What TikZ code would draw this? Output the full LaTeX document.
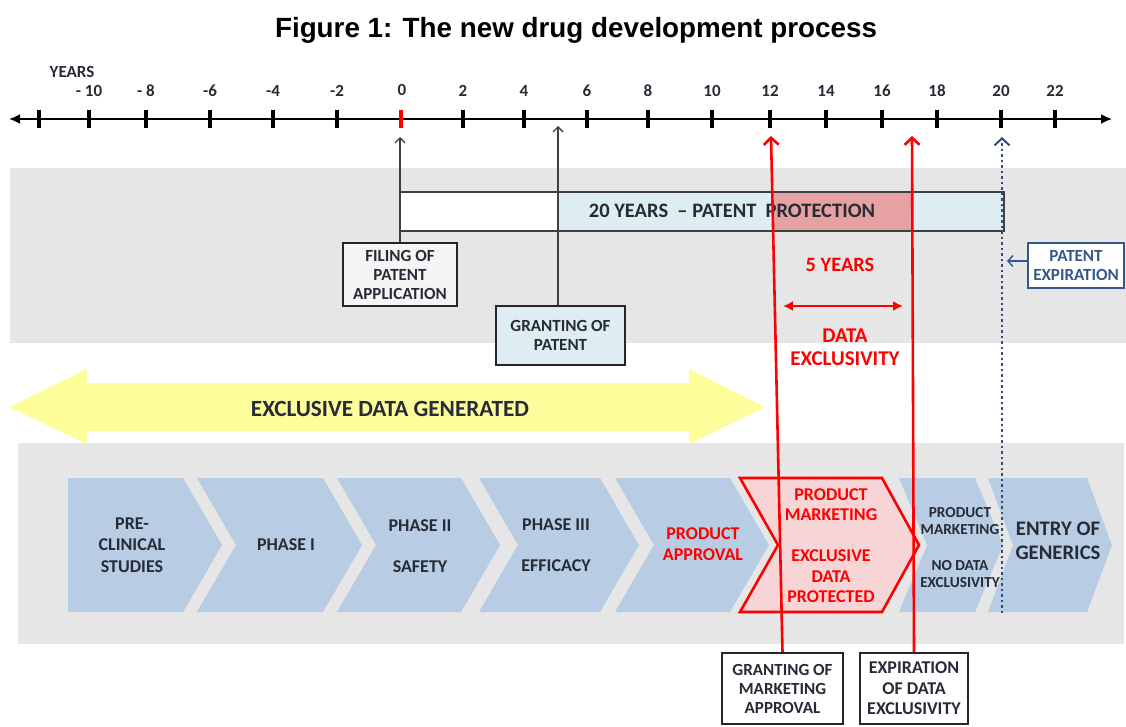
\documentclass[tikz,border=0pt]{standalone}
\usepackage{fontspec}
\setmainfont{Carlito}
\newfontfamily\titlefont{Liberation Sans}
\usetikzlibrary{arrows.meta}

\definecolor{bandgray}{HTML}{E6E6E6}
\definecolor{chevblue}{HTML}{B8CCE4}
\definecolor{barblue}{HTML}{DEEDF4}
\definecolor{barpink}{HTML}{E6A1A3}
\definecolor{chevpink}{HTML}{F7D5D7}
\definecolor{arrowyellow}{HTML}{FDFD9B}
\definecolor{txtdark}{HTML}{262B36}
\definecolor{expblue}{HTML}{35578A}
\definecolor{mkred}{HTML}{FF0000}

\tikzset{
    lblS/.style={font=\bfseries\fontsize{15.3}{17}\selectfont, align=center, text=txtdark},
    lblM/.style={font=\bfseries\fontsize{18}{21.5}\selectfont, align=center, text=txtdark},
    lblL/.style={font=\bfseries\fontsize{20.7}{24}\selectfont, align=center, text=txtdark},
    ticklabel/.style={font=\bfseries\fontsize{17}{19}\selectfont, text=txtdark},
    tickmark/.style={line width=3.8pt, black},
    axis/.style={line width=1.8pt, {Latex[length=11pt,width=10pt]}-{Latex[length=11pt,width=10pt]}},
    box/.style={draw=black!85, line width=1.6pt, inner sep=1pt, align=center,
        font=\bfseries\fontsize{17}{19}\selectfont, text=txtdark},
    thinarrow/.style={black!75, line width=1.3pt, -{Straight Barb[length=5pt,width=10pt]}},
    redline/.style={mkred, line width=2.6pt, -{Straight Barb[length=7pt,width=15pt]}}
}

\begin{document}
\begin{tikzpicture}[x=1pt,y=-1pt]
    \useasboundingbox (0,0) rectangle (1126,726);

    \node[font=\titlefont\bfseries\fontsize{27.8}{32}\selectfont, anchor=base] (title)
        at (576,37) {Figure 1: The new drug development process};

    % time axis
    \coordinate (axL) at (9,119);
    \coordinate (axR) at (1112,119);
    \draw[axis] (axL) -- (axR);
    \node[ticklabel] (years) at (72,72) {YEARS};
    \draw[tickmark] (39,110) -- (39,128);
    \foreach \x/\v in {89/- 10, 146/- 8, 210/-6, 273/-4, 337/-2, 463/2, 524/4, 587/6,
                       648/8, 712/10, 770/12, 826/14, 882/16, 937/18, 1001/20, 1055/22} {
        \draw[tickmark] (\x,110) -- (\x,128);
        \node[ticklabel] (yr\x) at (\x,91) {\v};
    }
    \draw[tickmark, mkred] (401,110) -- (401,128);
    \node[ticklabel] (yr401) at (402,90) {0};

    % grey backgrounds
    \fill[bandgray] (10,168) rectangle (1126,343);
    \fill[bandgray] (18,443) rectangle (1124,644);

    % patent protection bar
    \fill[white] (400,192) rectangle (558,231);
    \fill[barblue] (558,192) rectangle (1004,231);
    \fill[barpink] (773,192) rectangle (913,231);
    \draw[line width=1.5pt, black!75] (400,192) rectangle (1004,231);
    \node[lblM, font=\bfseries\fontsize{20.5}{24}\selectfont] (patbar) at (732,211)
        {20 YEARS\ \ – PATENT\ \ PROTECTION};

    % data generated arrow
    \fill[arrowyellow] (9,407) -- (87,369) -- (87,383) -- (689,383) -- (689,369)
        -- (765,407) -- (689,444) -- (689,431) -- (87,431) -- (87,444) -- cycle;
    \node[lblM, font=\bfseries\fontsize{23.2}{26}\selectfont] (exclgen) at (390,409)
        {EXCLUSIVE DATA GENERATED};

    % development stages
    \fill[chevblue] (68,478) -- (183,478) -- (222,545) -- (183,612) -- (68,612) -- cycle;
    \foreach \a/\b/\d in {197/323/39, 337/461/39, 479/600/39, 615/730/39,
                          899/975/28, 988/1087/25} {
        \fill[chevblue] (\a,478) -- (\b,478) -- (\b+\d,545) -- (\b,612) -- (\a,612)
            -- (\a+\d,545) -- cycle;
    }
    \draw[mkred, line width=2.6pt, fill=chevpink] (740,478) -- (882,478) -- (919,545)
        -- (882,612) -- (740,612) -- (778,545) -- cycle;

    \node[lblM] (preclin) at (132,545) {PRE-\\CLINICAL\\STUDIES};
    \node[lblM] (phase1) at (286,545) {PHASE I};
    \node[lblM] (phase2) at (420,546) {PHASE II\\[19.5pt]SAFETY};
    \node[lblM] (phase3) at (556,545) {PHASE III\\[19.5pt]EFFICACY};
    \node[lblM, text=mkred] (approval) at (703,544) {PRODUCT\\APPROVAL};
    \node[lblM, text=mkred, font=\bfseries\fontsize{18}{20.5}\selectfont] (mktexcl)
        at (831,545.5) {PRODUCT\\MARKETING\\[20.5pt]EXCLUSIVE\\DATA\\PROTECTED};
    \node[lblS] (mktfree) at (960,548)
        {PRODUCT\\MARKETING\\[19pt]NO DATA\\EXCLUSIVITY};
    \node[lblL] (generics) at (1058,541) {ENTRY OF\\GENERICS};

    % milestone boxes
    \node[box, fill=black!4, minimum width=114pt, minimum height=63pt] (filing)
        at (400,274.5) {FILING OF\\PATENT\\APPLICATION};
    \node[box, fill=barblue, minimum width=129pt, minimum height=59pt] (grantpat)
        at (560.5,335.5) {GRANTING OF\\PATENT};
    \node[box, fill=white, minimum width=121pt, minimum height=71pt] (grantmkt)
        at (782.5,688.5) {GRANTING OF\\MARKETING\\APPROVAL};
    \node[box, fill=white, minimum width=108pt, minimum height=71pt,
        font=\bfseries\fontsize{18}{20.5}\selectfont] (expdata)
        at (914,688.5) {EXPIRATION\\OF DATA\\EXCLUSIVITY};
    \node[box, draw=expblue, text=expblue, fill=white, minimum width=96pt,
        minimum height=45pt] (patexp) at (1076,265.5) {PATENT\\EXPIRATION};

    % data exclusivity span
    \node[lblM, text=mkred, font=\bfseries\fontsize{20.4}{23}\selectfont] (fiveyrs)
        at (840,265) {5 YEARS};
    \coordinate (dxL) at (783,306);
    \coordinate (dxR) at (903,306);
    \draw[mkred, line width=2pt, {Latex[length=10pt,width=10pt]}-{Latex[length=10pt,width=10pt]}]
        (dxL) -- (dxR);
    \node[lblM, text=mkred, font=\bfseries\fontsize{21}{23}\selectfont] (dataexcl)
        at (845,347.5) {DATA\\EXCLUSIVITY};

    % pointers to the time axis
    \coordinate (filtop) at (400,137);
    \coordinate (granttop) at (558,126);
    \draw[thinarrow] (filing.north) -- (filtop);
    \draw[thinarrow] (grantpat.north -| granttop) -- (granttop);

    \coordinate (mkttop) at (771,136);
    \coordinate (exctop) at (912,136);
    \draw[redline] (grantmkt.north) -- (mkttop);
    \draw[redline] (expdata.north) -- (exctop);

    \coordinate (expbot) at (1002,613);
    \coordinate (exptop) at (1002,137);
    \draw[expblue!90!black, line width=2.5pt, dash pattern=on 2.5pt off 3pt,
        -{Straight Barb[length=7pt,width=15pt,line width=2pt]}] (expbot) -- (exptop);
    \coordinate (patarr) at (1007,261);
    \draw[expblue, line width=1.4pt, -{Straight Barb[length=5pt,width=11pt]}]
        (patexp.west |- patarr) -- (patarr);
\end{tikzpicture}
\end{document}
